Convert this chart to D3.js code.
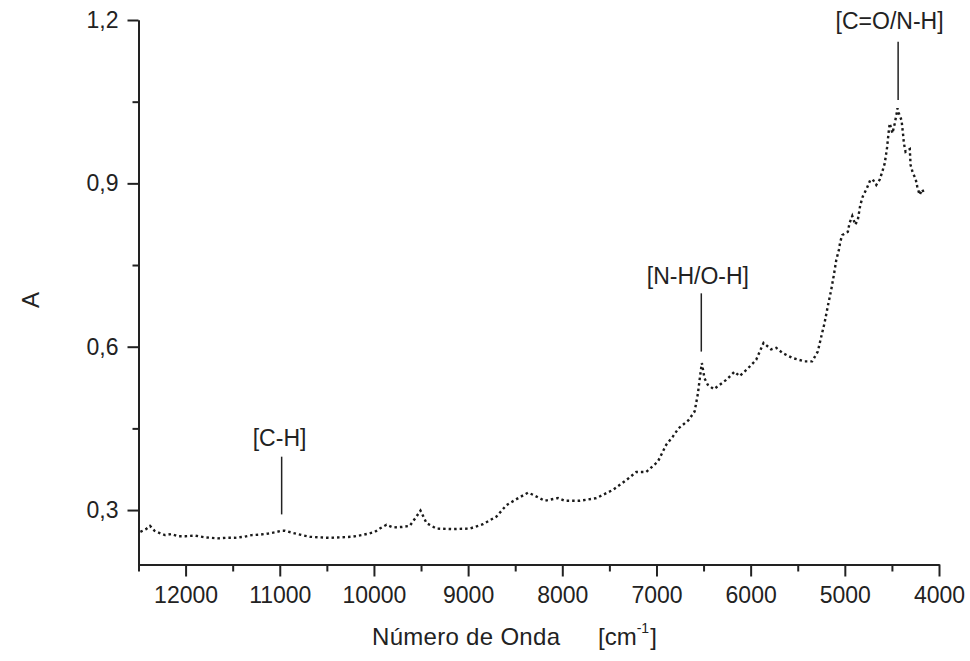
<!DOCTYPE html>
<html>
<head>
<meta charset="utf-8">
<script src="https://cdn.jsdelivr.net/npm/d3@7"></script>
<style>
  html, body { margin: 0; padding: 0; background: #fff; }
  svg { display: block; }
  text { font-family: "Liberation Sans", Arial, sans-serif; fill: #222; }
</style>
</head>
<body>
<svg id="chart" width="970" height="661"></svg>
<script>
// ---- data ----
const wavenumber = [12480,12420,12378,12330,12280,12220,12150,12080,12000,11900,11800,11656,11560,11476,11380,11296,11200,11120,11052,10980,10946,10860,10765,10680,10595,10480,10341,10230,10129,10050,9990,9938,9867,9800,9700,9620,9549,9506,9442,9336,9163,8983,8842,8699,8593,8487,8364,8311,8187,8046,7975,7816,7638,7462,7320,7214,7108,6985,6896,6826,6766,6660,6595,6560,6542,6518,6490,6455,6391,6260,6171,6118,6030,5941,5863,5782,5728,5658,5552,5428,5347,5287,5251,5216,5181,5145,5116,5091,5063,5048,5027,4968,4950,4921,4889,4862,4836,4809,4766,4730,4703,4666,4629,4601,4576,4552,4534,4523,4494,4470,4452,4441,4427,4398,4381,4373,4355,4310,4302,4278,4249,4231,4206,4178,4159];
const absorbance = [0.260,0.265,0.271,0.262,0.258,0.254,0.256,0.252,0.252,0.253,0.250,0.248,0.249,0.249,0.251,0.254,0.255,0.257,0.259,0.262,0.262,0.258,0.254,0.251,0.250,0.249,0.250,0.251,0.254,0.257,0.260,0.266,0.273,0.268,0.269,0.271,0.288,0.299,0.276,0.266,0.265,0.266,0.274,0.288,0.309,0.320,0.332,0.328,0.317,0.322,0.317,0.317,0.322,0.337,0.355,0.370,0.370,0.389,0.420,0.435,0.450,0.465,0.481,0.514,0.539,0.570,0.542,0.530,0.522,0.539,0.554,0.546,0.560,0.576,0.607,0.595,0.598,0.588,0.579,0.573,0.573,0.591,0.618,0.643,0.674,0.704,0.732,0.759,0.778,0.793,0.805,0.811,0.827,0.840,0.824,0.833,0.860,0.876,0.891,0.906,0.907,0.897,0.907,0.922,0.937,0.965,0.995,1.010,0.992,1.010,1.026,1.038,1.029,1.016,0.989,0.974,0.958,0.963,0.934,0.919,0.909,0.894,0.879,0.889,0.882];

const xMajorTicks = [12000,11000,10000,9000,8000,7000,6000,5000,4000];
const xMinorTicks = [12500,11500,10500,9500,8500,7500,6500,5500,4500];
const yMajorTicks = [0.3,0.6,0.9,1.2];
const yMinorTicks = [0.45,0.75,1.05];

const annLabels = ["[C-H]", "[N-H/O-H]", "[C=O/N-H]"];
const annLineX  = [10980, 6524, 4434];
const annTextX  = [11002, 6560, 4525];
const annLineLo = [0.292, 0.591, 1.053];
const annLineHi = [0.398, 0.698, 1.160];
const annTextY  = [0.418, 0.716, 1.183];

const xTitle = "Número de Onda";
const xUnit = ["[cm", "-1", "]"];
const yTitle = "A";

// ---- chart ----
const svg = d3.select("#chart");
const x = d3.scaleLinear().domain([12500, 4000]).range([138.5, 939]);
const y = d3.scaleLinear().domain([0.2, 1.2]).range([564.5, 20]);
const fmt = d3.format(".1f");
const comma = v => fmt(v).replace(".", ",");

const axisColor = "#222";

// x axis
const gx = svg.append("g").attr("transform", `translate(0,${y(0.2)})`);
gx.call(d3.axisBottom(x).tickValues(xMinorTicks).tickSize(7).tickFormat("").tickSizeOuter(0));
const gx2 = svg.append("g").attr("transform", `translate(0,${y(0.2)})`);
gx2.call(d3.axisBottom(x).tickValues(xMajorTicks).tickSize(12).tickPadding(10).tickFormat(d => d).tickSizeOuter(0));
[gx, gx2].forEach(g => {
  g.select(".domain").attr("stroke", axisColor).attr("stroke-width", 2);
  g.selectAll(".tick line").attr("stroke", axisColor).attr("stroke-width", 2);
});
gx2.selectAll(".tick text").attr("font-size", 23).attr("font-family", "Liberation Sans, Arial, sans-serif").attr("fill", "#222");

// y axis
const gy = svg.append("g").attr("transform", `translate(${x(12500)},0)`);
gy.call(d3.axisLeft(y).tickValues(yMinorTicks).tickSize(6).tickFormat("").tickSizeOuter(0));
const gy2 = svg.append("g").attr("transform", `translate(${x(12500)},0)`);
gy2.call(d3.axisLeft(y).tickValues(yMajorTicks).tickSize(11).tickPadding(9).tickFormat(comma).tickSizeOuter(0));
[gy, gy2].forEach(g => {
  g.select(".domain").attr("stroke", axisColor).attr("stroke-width", 2);
  g.selectAll(".tick line").attr("stroke", axisColor).attr("stroke-width", 2);
});
gy2.selectAll(".tick text").attr("font-size", 23).attr("font-family", "Liberation Sans, Arial, sans-serif").attr("fill", "#222");

// series
const pts = wavenumber.map((w, i) => [w, absorbance[i]]);
svg.append("path")
  .datum(pts)
  .attr("fill", "none")
  .attr("stroke", "#1a1a1a")
  .attr("stroke-width", 2.4)
  .attr("stroke-dasharray", "2.5,3")
  .attr("d", d3.line().x(d => x(d[0])).y(d => y(d[1])));

// annotations
annLabels.forEach((lab, i) => {
  svg.append("line")
    .attr("x1", x(annLineX[i])).attr("x2", x(annLineX[i]))
    .attr("y1", y(annLineLo[i])).attr("y2", y(annLineHi[i]))
    .attr("stroke", "#222").attr("stroke-width", 1.5);
  svg.append("text")
    .attr("x", x(annTextX[i])).attr("y", y(annTextY[i]))
    .attr("text-anchor", "middle")
    .attr("font-size", 23)
    .text(lab);
});

// axis titles
svg.append("text")
  .attr("x", 372).attr("y", 645)
  .attr("text-anchor", "start")
  .attr("font-size", 24)
  .attr("textLength", 188)
  .text(xTitle);
const t = svg.append("text")
  .attr("x", 598).attr("y", 645)
  .attr("text-anchor", "start")
  .attr("font-size", 24);
t.append("tspan").text(xUnit[0]);
t.append("tspan").attr("font-size", 14).attr("dy", -12).text(xUnit[1]);
t.append("tspan").attr("dy", 12).attr("dx", 1).text(xUnit[2]);

svg.append("text")
  .attr("transform", "translate(39,300) rotate(-90)")
  .attr("text-anchor", "middle")
  .attr("font-size", 24)
  .text(yTitle);
</script>
</body>
</html>
